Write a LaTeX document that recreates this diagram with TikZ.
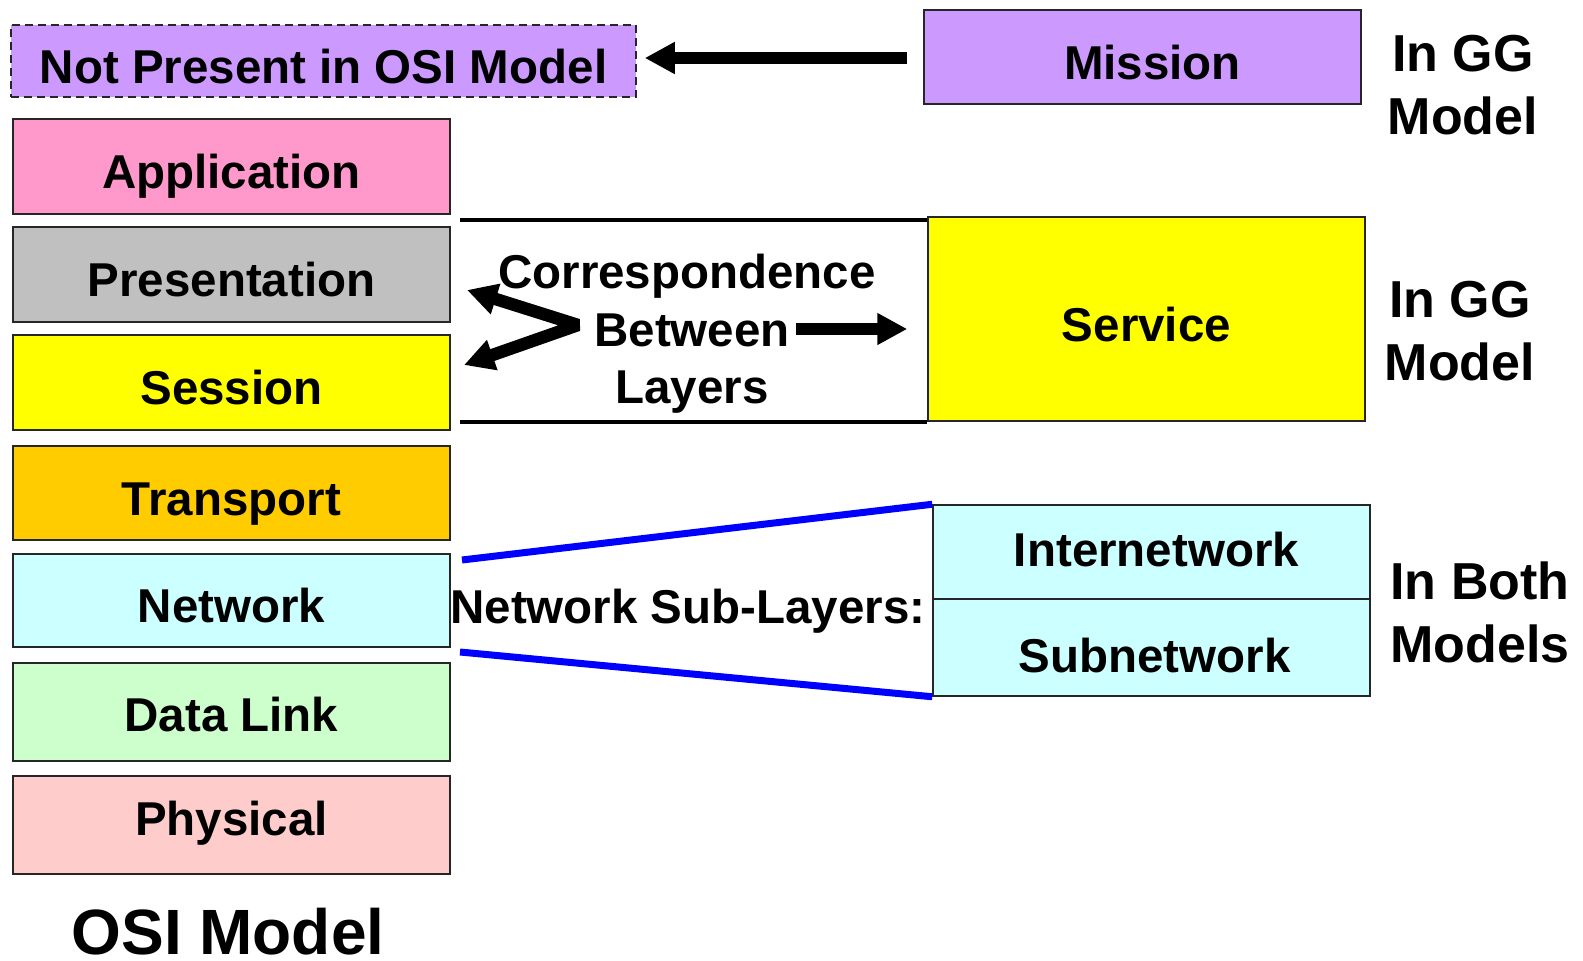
\documentclass[tikz,border=0pt]{standalone}
\usepackage{fontspec}
\setmainfont{Liberation Sans}
\usetikzlibrary{arrows.meta}

\definecolor{missionc}{HTML}{CC99FF}
\definecolor{applc}{HTML}{FF99CC}
\definecolor{presc}{HTML}{C0C0C0}
\definecolor{sessc}{HTML}{FFFF00}
\definecolor{transc}{HTML}{FFCC00}
\definecolor{netc}{HTML}{CCFFFF}
\definecolor{linkc}{HTML}{CCFFCC}
\definecolor{physc}{HTML}{FFCCCC}

\tikzset{
    layer/.style={draw=black!85, line width=1.5pt, inner sep=0pt,
        minimum width=437pt, text height=44pt, text depth=0pt,
        font=\fontsize{47.5}{57}\selectfont\bfseries},
    sidelbl/.style={align=center, font=\fontsize{52}{63}\selectfont\bfseries},
    midlbl/.style={align=center, font=\fontsize{47.5}{57.5}\selectfont\bfseries},
    fatarrow/.style={line width=12.5pt, -{Triangle[length=30pt,width=30pt]}},
    twoway/.style={line width=12.5pt, line join=bevel,
        {Triangle[length=30pt,width=30pt]}-{Triangle[length=30pt,width=30pt]}},
    bar/.style={line width=4pt},
    subline/.style={blue, line width=7pt}
}

\begin{document}
\begin{tikzpicture}[x=1pt,y=-1pt]
                \useasboundingbox (0,0) rectangle (1583,961);

                % OSI stack
                \node[layer, fill=applc, minimum height=95pt] (app) at (231.5,166.5) {Application};
                \node[layer, fill=presc, minimum height=95pt] (pres) at (231.5,274.5) {Presentation};
                \node[layer, fill=sessc, minimum height=95pt] (sess) at (231.5,382.5) {Session};
                \node[layer, fill=transc, minimum height=94pt] (trans) at (231.5,493) {Transport};
                \node[layer, fill=netc, minimum height=93pt] (net) at (231.5,600.5) {Network};
                \node[layer, fill=linkc, minimum height=98pt, text height=38pt] (link) at (231.5,712) {Data Link};
                \node[layer, fill=physc, minimum height=98pt, text height=34pt, text depth=14pt] (phys) at (231.5,825) {Physical};
                \node[font=\fontsize{64}{70}\selectfont\bfseries] (osi) at (228,932) {OSI Model};

                \node[layer, fill=missionc, dash pattern=on 8pt off 5pt, minimum width=625pt, minimum height=72pt] (notosi) at (323.5,61) {Not Present in OSI Model};

                % GG model
                \node[layer, fill=missionc, minimum height=94pt] (mission) at (1142.5,57) {\hspace*{20pt}Mission};
                \node[layer, fill=sessc, minimum height=204pt] (service) at (1146.5,319) {Service};
                \node[layer, fill=netc, minimum height=94pt, text height=34pt, text depth=6pt] (inet) at (1151.5,552) {\hspace*{10pt}Internetwork};
                \node[layer, fill=netc, minimum height=97pt, text height=50pt] (subnet) at (1151.5,647.5) {\hspace*{6pt}Subnetwork};

                \node[sidelbl] (gg1) at (1463,85) {In GG\\Model};
                \node[sidelbl] (gg2) at (1460,331) {In GG\\Model};
                \node[sidelbl] (both) at (1480,612) {In Both\\Models};

                % correspondence
                \node[midlbl] (corr) at (692,334) {\hspace*{-10pt}Correspondence\\Between\\Layers};
                \coordinate (corrtop) at (460,220);
                \coordinate (corrbot) at (460,422);
                \draw[bar] (corrtop) -- (corrtop -| service.west);
                \draw[bar] (corrbot) -- (corrbot -| service.west);

                \coordinate (vtx) at (578,325);
                \coordinate (tippres) at (467,290);
                \coordinate (tipsess) at (464,365);
                \draw[twoway] (tippres) -- (vtx) -- (tipsess);
                \coordinate (betw) at (796,329);
                \draw[fatarrow, shorten >=20pt] (betw) -- (betw -| service.west);

                \draw[fatarrow, shorten <=16pt, shorten >=8pt] (mission.west |- 0,58) -- (notosi.east |- 0,58);

                % network sub-layers
                \node[font=\fontsize{47.5}{57}\selectfont\bfseries] (netsub) at (688,611) {Network Sub-Layers:};
                \coordinate (netup) at (462,560);
                \coordinate (netdown) at (460,652);
                \draw[subline] (netup) -- (inet.north west);
                \draw[subline] (netdown) -- (subnet.south west);
            \end{tikzpicture}
\end{document}
